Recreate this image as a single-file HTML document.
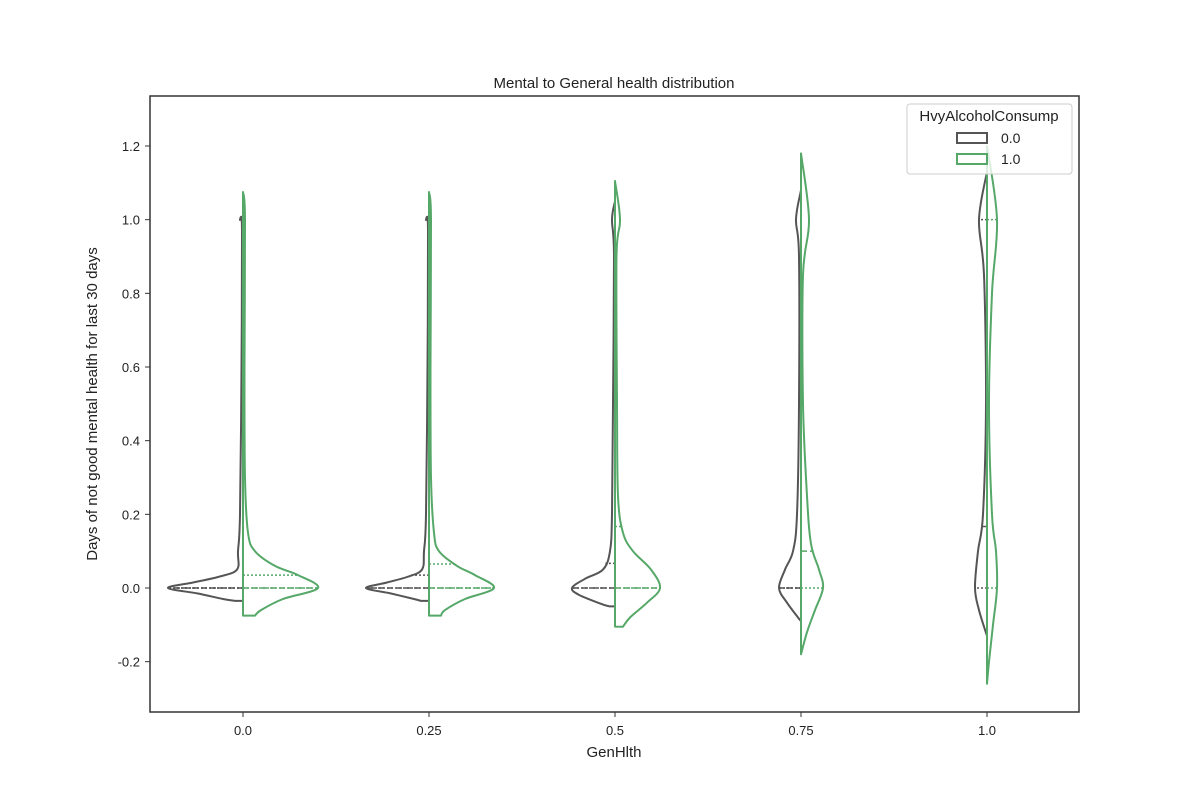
<!DOCTYPE html>
<html><head><meta charset="utf-8"><style>
body{margin:0;background:#fff}
svg{font-family:"Liberation Sans","DejaVu Sans",sans-serif}
</style></head><body>
<svg id="c" width="1200" height="800" xmlns="http://www.w3.org/2000/svg"></svg>
<script>
const categories=["0.0","0.25","0.5","0.75","1.0"];
const yTicks=[-0.2,0.0,0.2,0.4,0.6,0.8,1.0,1.2];
// density profiles: [value, density] for HvyAlcoholConsump=0 (left) and 1 (right)
const densNo=[
 [[1.01,0],[1.0,3],[0.97,1],[0.6,1.5],[0.2,3],[0.1,5],[0.05,6],[0.03,25],[0.015,50],[0,75],[-0.015,45],[-0.03,20],[-0.035,8]],
 [[1.01,0],[1.0,3],[0.97,1],[0.6,1.5],[0.2,3],[0.1,5],[0.05,7],[0.03,22],[0.015,42],[0,63],[-0.015,38],[-0.03,15],[-0.035,8]],
 [[1.05,0],[1.0,3],[0.9,1],[0.5,2],[0.2,3],[0.1,5],[0.05,12],[0.025,30],[0,43],[-0.02,35],[-0.045,12],[-0.05,5]],
 [[1.08,0],[1.0,5],[0.9,2],[0.5,2],[0.2,4],[0.1,8],[0.05,16],[0,22],[-0.04,14],[-0.08,3],[-0.09,0]],
 [[1.13,0],[1.0,8],[0.85,3],[0.5,1],[0.2,4],[0.1,9],[0.0,12],[-0.06,8],[-0.13,0]]
];
const densYes=[
 [[1.075,0],[1.0,2],[0.6,1.5],[0.3,2],[0.15,5],[0.1,12],[0.06,32],[0.035,55],[0,75],[-0.03,40],[-0.06,18],[-0.075,12]],
 [[1.075,0],[1.0,2],[0.6,1.5],[0.3,2],[0.15,5],[0.1,10],[0.06,28],[0.035,46],[0,65],[-0.03,36],[-0.06,16],[-0.075,12]],
 [[1.105,0],[1.0,5],[0.9,1.5],[0.5,2],[0.25,3],[0.15,8],[0.1,18],[0.05,36],[0,45],[-0.04,32],[-0.08,15],[-0.105,8]],
 [[1.18,0],[1.0,8],[0.85,2],[0.5,2],[0.25,6],[0.12,10],[0.05,18],[0,22],[-0.06,14],[-0.12,6],[-0.18,0]],
 [[1.2,0],[1.0,10],[0.8,5],[0.5,2],[0.2,5],[0.1,9],[0.0,10],[-0.1,6],[-0.2,2],[-0.26,0]]
];
// quartiles [q1, median, q3]
const quartNo=[[0,0,0],[0,0,0.035],[0,0,0.067],[0,0,0],[0,0.167,1.0]];
const quartYes=[[0,0,0.035],[0,0,0.065],[0,0,0.167],[0,0.1,0.5],[0,0.467,1.0]];

const svg=document.getElementById('c');const NS='http://www.w3.org/2000/svg';
const L=150,R=1079,T=96,B=712;
const y=v=>588-v*368.33;
const x=i=>243+i*186;
function mk(t,a,p){const e=document.createElementNS(NS,t);for(const k in a)e.setAttribute(k,a[k]);(p||svg).appendChild(e);return e;}
const gray='#555555',green='#55a868';
function halfWidthAt(d,v){for(let k=0;k<d.length-1;k++){const a=d[k],b=d[k+1];if(v<=a[0]&&v>=b[0]){const t=(a[0]-v)/(a[0]-b[0]||1);return a[1]+t*(b[1]-a[1]);}}return 0;}
function smooth(pts){
 let s='';
 for(let k=0;k<pts.length-1;k++){
  const p0=pts[Math.max(0,k-1)],p1=pts[k],p2=pts[k+1],p3=pts[Math.min(pts.length-1,k+2)];
  const c1=[p1[0]+(p2[0]-p0[0])/6,p1[1]+(p2[1]-p0[1])/6];
  const c2=[p2[0]-(p3[0]-p1[0])/6,p2[1]-(p3[1]-p1[1])/6];
  s+=' C'+c1[0].toFixed(1)+','+c1[1].toFixed(1)+' '+c2[0].toFixed(1)+','+c2[1].toFixed(1)+' '+p2[0].toFixed(1)+','+p2[1].toFixed(1);
 }
 return s;
}
function violin(i,d,side,col,q){
 const cx=x(i);
 let pts=d.map(p=>[cx+side*p[1],y(p[0])]);
 let dstr='M'+cx+','+y(d[0][0])+' L'+pts[0][0].toFixed(1)+','+pts[0][1].toFixed(1)+smooth(pts);
 dstr+=' L'+cx+','+y(d[d.length-1][0])+' Z';
 const e=mk('path',{d:dstr,fill:'none',stroke:col,'stroke-width':2,'stroke-linejoin':'round'});
 
 
 q.forEach((v,k)=>{const w=halfWidthAt(d,v);
  const l=mk('line',{x1:cx,x2:cx+side*w,y1:y(v),y2:y(v),stroke:col,'stroke-width':1.5,'stroke-dasharray':k==1?'6,3':'2,2'});
  
  });
}
const title=mk('text',{x:614,y:88,'text-anchor':'middle','font-size':15,fill:'#222'});title.textContent='Mental to General health distribution';

for(let i=0;i<categories.length;i++){violin(i,densNo[i],-1,gray,quartNo[i]);violin(i,densYes[i],1,green,quartYes[i]);}
mk('rect',{x:L,y:T,width:R-L,height:B-T,fill:'none',stroke:'#333','stroke-width':1.5});
yTicks.forEach(v=>{mk('line',{x1:L,x2:L-5,y1:y(v),y2:y(v),stroke:'#333'});
 const t=mk('text',{x:L-10,y:y(v)+5,'text-anchor':'end','font-size':13,fill:'#222'});t.textContent=v.toFixed(1);
 });
categories.forEach((c,i)=>{mk('line',{x1:x(i),x2:x(i),y1:B,y2:B+5,stroke:'#333'});
 const t=mk('text',{x:x(i),y:B+23,'text-anchor':'middle','font-size':13,fill:'#222'});t.textContent=c;
 });
const xt=mk('text',{x:614,y:757,'text-anchor':'middle','font-size':15,fill:'#222'});xt.textContent='GenHlth';

const yt=mk('text',{x:97,y:404,'text-anchor':'middle','font-size':15,fill:'#222',transform:'rotate(-90 97 404)'});yt.textContent='Days of not good mental health for last 30 days';

const lg=mk('g',{});
mk('rect',{x:907,y:104,width:165,height:70,rx:3,fill:'#fff','fill-opacity':0.8,stroke:'#ccc'},lg);
const lt=mk('text',{x:989,y:121,'text-anchor':'middle','font-size':15,fill:'#222'},lg);lt.textContent='HvyAlcoholConsump';
[['0.0',gray,138],['1.0',green,159]].forEach(e=>{mk('rect',{x:957,y:e[2]-5,width:30,height:10,fill:'none',stroke:e[1],'stroke-width':2},lg);
 const t=mk('text',{x:1001,y:e[2]+5,'font-size':14,fill:'#222'},lg);t.textContent=e[0];
 });
</script>
</body></html>
